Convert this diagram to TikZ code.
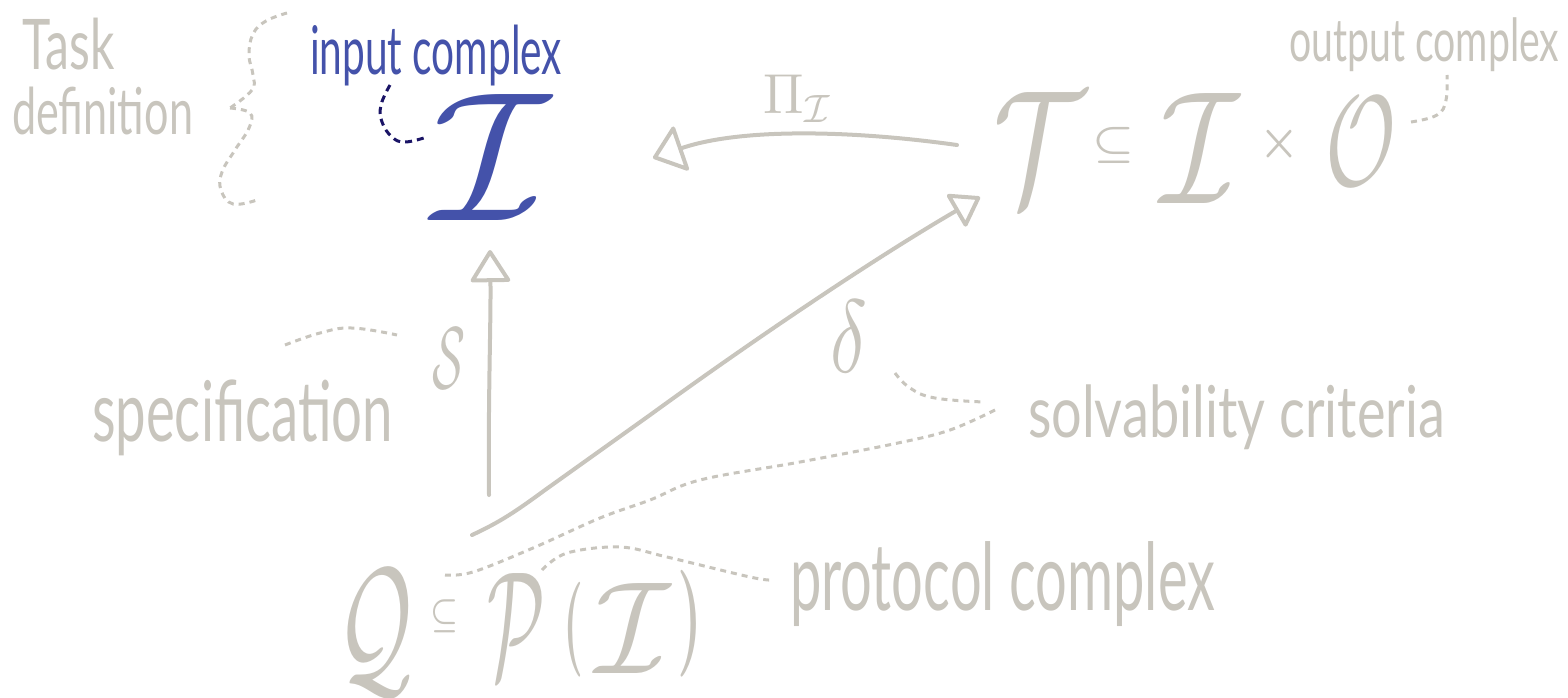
\documentclass[tikz,border=0pt]{standalone}
\usepackage{fontspec}
\setmainfont{Lato}
\usepackage{graphicx}
\usetikzlibrary{arrows.meta}
\definecolor{hgray}{RGB}{200,197,189}
\definecolor{hblue}{RGB}{68,82,170}
\definecolor{hnavy}{RGB}{26,20,102}
\newdimen\px \px=0.5pt
\newcommand\hwtxt[7][]{\node[hwtext,#1] (#2) at (#3,#4) {\resizebox*{\dimexpr#5\px-#3\px\relax}{\dimexpr#6\px-#4\px\relax}{#7}};}
\tikzset{
  hwtext/.style={inner sep=0pt, outer sep=0pt, anchor=north west, text=hgray},
  hwline/.style={draw=hgray, line width=2pt, line cap=round, line join=round},
  hwdash/.style={draw=hgray, line width=1.5pt, dash pattern=on 3pt off 2.5pt},
  navydash/.style={draw=hnavy, line width=1.5pt, dash pattern=on 3.5pt off 2.5pt},
  headV/.tip={Triangle[open, length=17pt, width=21pt, round]},
  headPi/.tip={Triangle[open, length=16pt, width=25pt, round]},
  headD/.tip={Triangle[open, length=15pt, width=20pt, round]},
}
\begin{document}
\begin{tikzpicture}[x=0.5pt, y=-0.5pt]
\useasboundingbox (0,0) rectangle (1568,697);
% texts
\hwtxt{task}{23}{18}{115}{70}{Task}
\hwtxt{def}{12}{87}{193}{135}{definition}
\hwtxt[text=hblue]{inlab}{310}{25}{562}{86}{input complex}
\hwtxt[text=hblue]{Iin}{432}{94}{550}{220}{$\mathcal{I}$}
\hwtxt{outlab}{1289}{18}{1559}{72}{output complex}
\hwtxt{Trel}{993}{92}{1085}{203}{$\mathcal{T}$}
\hwtxt{sub1}{1092}{127}{1134}{163}{\boldmath$\subseteq$}
\hwtxt{Iout}{1160}{93}{1239}{203}{$\mathcal{I}$}
\hwtxt{times}{1259}{125}{1299}{163}{\boldmath$\times$}
\hwtxt{Oout}{1325}{97}{1396}{185}{$\mathcal{O}$}
\hwtxt{Pi}{763}{75}{833}{122}{$\Pi_{\mathcal{I}}$}
\hwtxt{S}{432}{328}{465}{388}{$\mathcal{S}$}
\hwtxt{delta}{830}{300}{867}{372}{$\delta$}
\hwtxt{spec}{92}{380}{393}{456}{specification}
\hwtxt{solv}{1028}{385}{1445}{450}{solvability criteria}
\hwtxt{prot}{790}{542}{1215}{627}{protocol complex}
\hwtxt{Q}{337}{570}{412}{695}{$\mathcal{Q}$}
\hwtxt{sub2}{430}{600}{458}{633}{\boldmath$\subseteq$}
\hwtxt{P}{487}{573}{545}{678}{$\mathcal{P}$}
\hwtxt{lp}{563}{582}{583}{677}{\boldmath$($}
\hwtxt{Isub}{595}{583}{670}{673}{$\mathcal{I}$}
\hwtxt{rp}{677}{570}{702}{677}{\boldmath$)$}
% connector end points
\coordinate (vS) at (489,495);
\coordinate (vE) at (490,250);
\coordinate (pS) at (957,145);
\coordinate (pE) at (653,158);
\coordinate (dS) at (472,535);
\coordinate (dE) at (980,197);
% arrows
\draw[hwline, -{headV}] (vS) .. controls (488,400) and (491,320) .. (vE);
\draw[hwline, -{headPi}] (pS) .. controls (850,130) and (740,128) .. (pE);
\draw[hwline, -{headD}] (dS) .. controls (500,522) and (515,512) .. (545,490) -- (650,415) .. controls (760,335) and (880,255) .. (dE);
% brace
\draw[hwdash] plot[smooth, tension=0.7] coordinates {(287,13) (266,21) (253,34) (249,55) (253,75) (252,90) (230,108)};
\draw[hwdash] plot[smooth, tension=0.7] coordinates {(230,108) (250,113) (249,128) (235,150) (222,172) (221,190) (233,204) (257,200)};
% navy dashed
\draw[navydash] plot[smooth, tension=0.7] coordinates {(390,85) (381,105) (382,122) (392,137) (405,142) (427,137)};
% specification leader
\draw[hwdash] plot[smooth, tension=0.7] coordinates {(285,345) (320,333) (352,328) (397,335)};
% delta leader
\draw[hwdash] plot[smooth, tension=0.7] coordinates {(895,373) (910,388) (935,398) (984,402)};
% solvability to Q
\draw[hwdash] plot[smooth, tension=0.6] coordinates {(995,410) (950,430) (898,443) (800,462) (700,480) (650,500) (600,518) (533,548) (473,572) (445,575)};
% protocol complex leader
\draw[hwdash] plot[smooth, tension=0.6] coordinates {(542,570) (567,553) (620,547) (667,557) (750,577) (772,580)};
% output complex leader
\draw[hwdash] plot[smooth, tension=0.7] coordinates {(1411,122) (1437,115) (1446,100) (1447,75)};
\end{tikzpicture}
\end{document}
